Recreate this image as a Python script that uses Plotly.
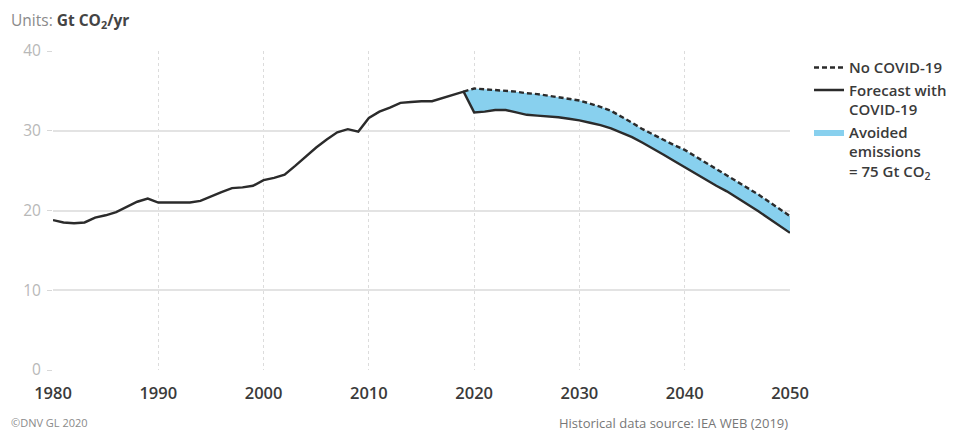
import plotly.graph_objects as go

hist_years = list(range(1980, 2020))
hist_values = [18.8, 18.5, 18.4, 18.5, 19.1, 19.4, 19.8, 20.5, 21.1, 21.5,
               21.0, 21.0, 21.0, 21.0, 21.2, 21.8, 22.3, 22.8, 22.9, 23.1,
               23.8, 24.1, 24.5, 25.6, 26.8, 27.9, 28.9, 29.8, 30.2, 29.9,
               31.6, 32.4, 32.9, 33.5, 33.6, 33.7, 33.7, 34.1, 34.5, 34.9]

fc_years = list(range(2020, 2051))
covid_values = [32.3, 32.4, 32.6, 32.6, 32.3, 32.0, 31.9, 31.8, 31.7, 31.5,
                31.3, 31.0, 30.7, 30.3, 29.8, 29.2, 28.5, 27.8, 27.0, 26.2,
                25.4, 24.6, 23.9, 23.1, 22.4, 21.6, 20.8, 19.9, 19.0, 18.1, 17.2]

nocovid_years = list(range(2019, 2051))
nocovid_values = [34.9, 35.3, 35.2, 35.1, 35.0, 34.9, 34.7, 34.6, 34.4, 34.2,
                  34.0, 33.8, 33.4, 33.0, 32.5, 31.8, 31.0, 30.2, 29.5, 28.8,
                  28.2, 27.6, 26.8, 26.0, 25.3, 24.5, 23.7, 22.9, 22.0, 21.1,
                  20.2, 19.3]

x_ticks = [1980, 1990, 2000, 2010, 2020, 2030, 2040, 2050]
y_ticks = [0, 10, 20, 30, 40]

FONT = "Open Sans"
fig = go.Figure()

# avoided emissions polygon (between No COVID and Forecast with COVID)
poly_x = nocovid_years + fc_years[::-1] + [2019]
poly_y = nocovid_values + covid_values[::-1] + [hist_values[-1]]
fig.add_trace(go.Scatter(
    x=poly_x, y=poly_y, fill="toself", fillcolor="#88d0ee",
    line=dict(width=0, color="#88d0ee"), mode="lines",
    name="Avoided<br>emissions<br>= 75 Gt CO<sub>2</sub>", legendrank=3,
    hoverinfo="skip"))

fig.add_trace(go.Scatter(
    x=hist_years + fc_years, y=hist_values + covid_values, mode="lines",
    line=dict(color="#2b2b2b", width=2.4),
    name="Forecast with<br>COVID-19", legendrank=2))

fig.add_trace(go.Scatter(
    x=nocovid_years, y=nocovid_values, mode="lines",
    line=dict(color="#2b2b2b", width=2.4, dash="5px,3px"),
    name="No COVID-19", legendrank=1))

# reference pixel geometry -> paper coords helpers
PL, PR, PT, PB = 53, 790, 50.7, 370  # plot area in reference pixels
def px(X):
    return (X - PL) / (PR - PL)
def py(Y):
    return (PB - Y) / (PB - PT)

fig.update_layout(
    width=960, height=432,
    margin=dict(l=45, r=178, t=43, b=70),
    plot_bgcolor="white", paper_bgcolor="white",
    font=dict(family=FONT, color="#333333"),
    showlegend=True,
    legend=dict(x=px(809), xanchor="left", y=py(51), yanchor="top",
                font=dict(family=FONT, size=15, color="#3a3a3a", weight=600),
                tracegroupgap=0, itemwidth=30, valign="top",
                bgcolor="rgba(0,0,0,0)"),
    xaxis=dict(range=[1980, 2050], tickvals=x_ticks,
               showgrid=True, gridcolor="#dcdcdc", griddash="dot", gridwidth=1,
               zeroline=False, showline=False, ticks="", ticklabelstandoff=11,
               tickfont=dict(family=FONT, size=16.5, color="#3a3a3a", weight=600)),
    yaxis=dict(range=[0, 40], tickvals=y_ticks,
               showgrid=True, gridcolor="#e3e3e3", gridwidth=1.5,
               zeroline=False, showline=False,
               ticks="outside", ticklen=5, tickcolor="#d8d8d8",
               ticklabelstandoff=3,
               tickfont=dict(family=FONT, size=15.5, color="#b8b8b8")),
    annotations=[
        dict(text="<span style='color:#8a8a8a'>Units: </span><b>Gt CO<sub>2</sub>/yr</b>",
             xref="paper", yref="paper", x=px(9), y=py(20),
             xanchor="left", yanchor="middle", showarrow=False,
             font=dict(family=FONT, size=15.5, color="#444444")),
        dict(text="©DNV GL 2020", xref="paper", yref="paper",
             x=px(9), y=py(423), xanchor="left", yanchor="middle",
             showarrow=False, font=dict(family=FONT, size=11, color="#8a8a8a")),
        dict(text="Historical data source: IEA WEB (2019)", xref="paper", yref="paper",
             x=1.0, y=py(423), xanchor="right", yanchor="middle",
             showarrow=False, font=dict(family=FONT, size=13, color="#777777")),
    ],
)

fig.write_html("out.html")
